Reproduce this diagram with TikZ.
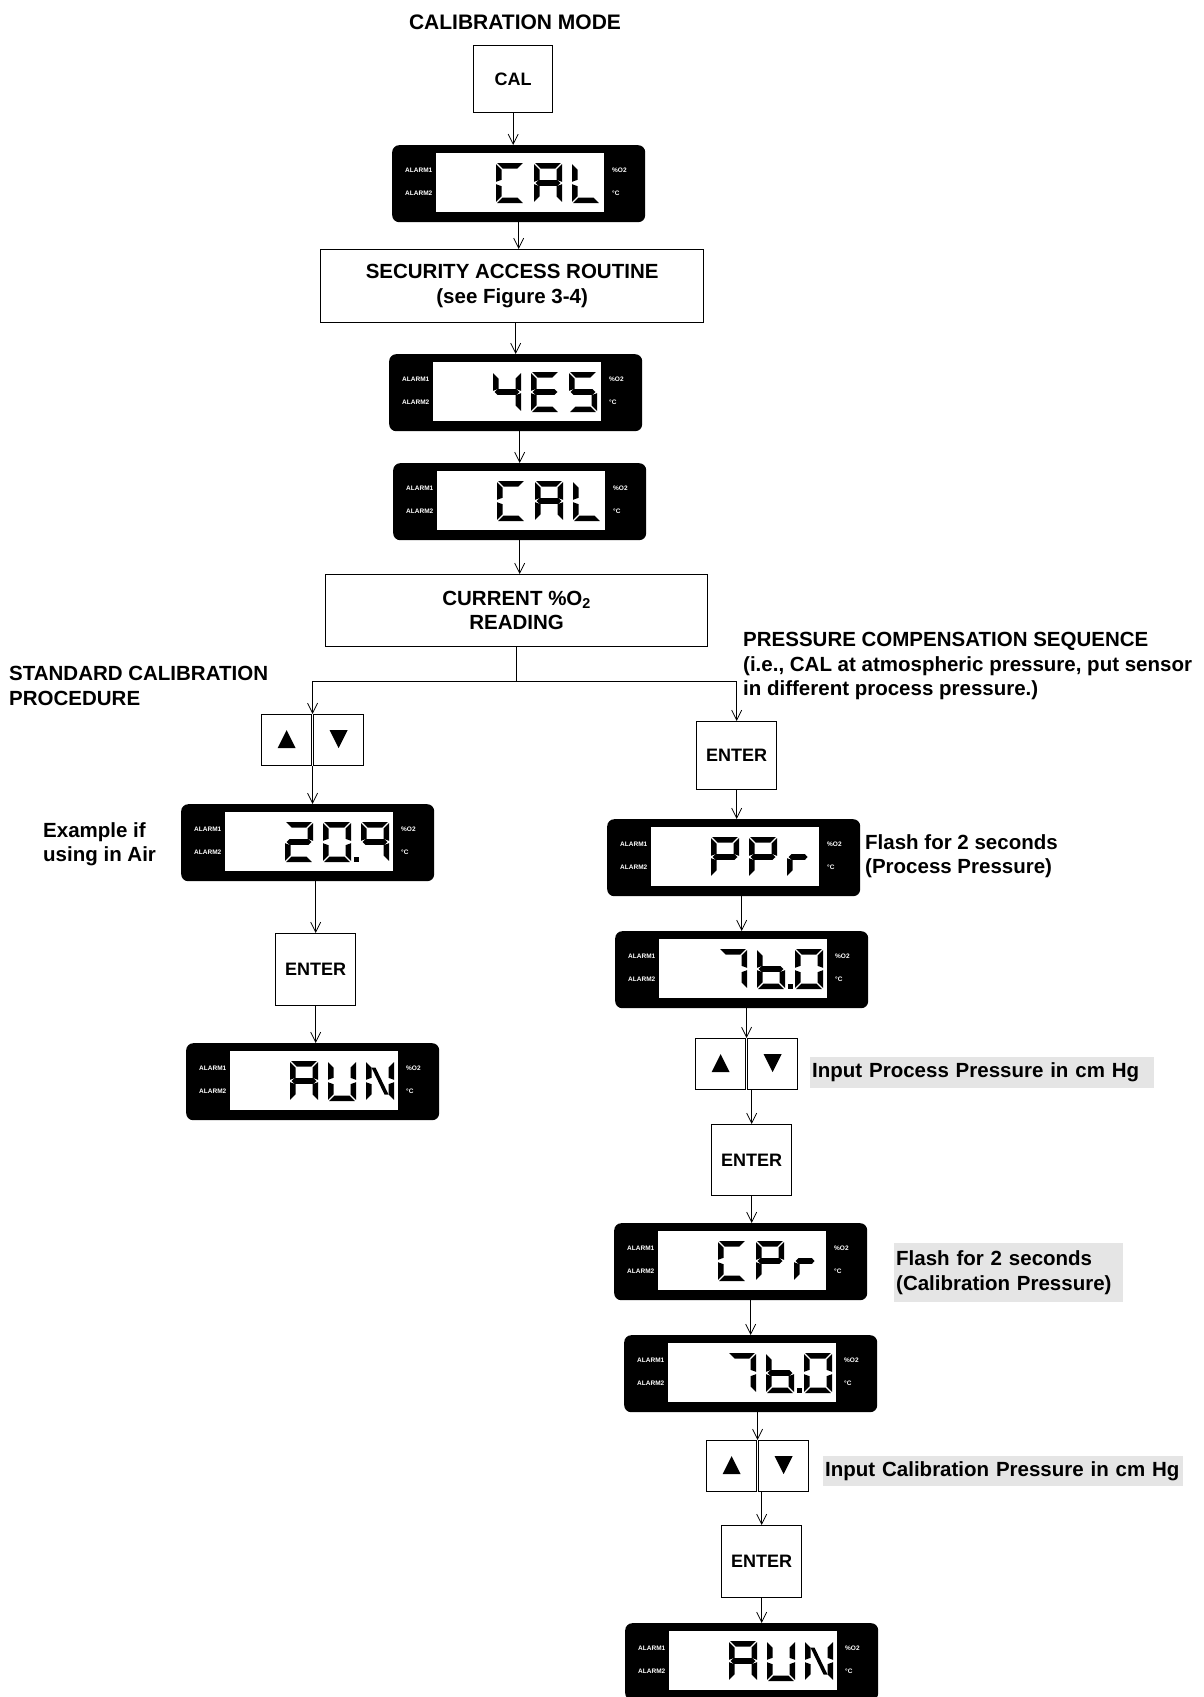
\documentclass[tikz,border=0pt]{standalone}
\usepackage{fontspec}
\setmainfont{Liberation Sans}
\usetikzlibrary{arrows.meta,calc}

\newcommand\mf{\fontsize{20.5}{24.5}\selectfont\bfseries}
\newcommand\titf{\fontsize{21}{25}\selectfont\bfseries}
\newcommand\btnf{\fontsize{18}{22}\selectfont\bfseries}
\newcommand\lblf{\fontsize{6.5}{7}\selectfont\bfseries}

% seven segment pieces (cell 28 x 40, y downward)
\newcommand\lcdsega{\fill (1.2,0) -- (26.8,0) -- (21.3,5.5) -- (6.7,5.5) -- cycle;}
\newcommand\lcdsegd{\fill (1.2,40) -- (26.8,40) -- (21.3,34.5) -- (6.7,34.5) -- cycle;}
\newcommand\lcdsegf{\fill (0,1.2) -- (5.5,6.7) -- (5.5,16.8) -- (0,18.8) -- cycle;}
\newcommand\lcdsege{\fill (0,21.2) -- (5.5,23.2) -- (5.5,33.3) -- (0,38.8) -- cycle;}
\newcommand\lcdsegb{\fill (28,1.2) -- (22.5,6.7) -- (22.5,16.8) -- (28,18.8) -- cycle;}
\newcommand\lcdsegc{\fill (28,21.2) -- (22.5,23.2) -- (22.5,33.3) -- (28,38.8) -- cycle;}
\newcommand\lcdsegg{\fill (1.5,20) -- (4.5,17.2) -- (23.5,17.2) -- (26.5,20) -- (23.5,22.8) -- (4.5,22.8) -- cycle;}
\newcommand\lcdsegdp{\fill (31,34.5) rectangle (36,40);}
\newcommand\lcdsegn{\fill (5.5,6.5) -- (9.5,6.5) -- (22.5,33.5) -- (18.5,33.5) -- cycle;}
\newcommand\lcdsegr{\lcdsege\fill (1.5,20) -- (4.5,17.2) -- (18,17.2) -- (20.5,20) -- (18,22.8) -- (4.5,22.8) -- cycle;}

\newcommand\lcdch[2]{\begin{scope}[shift={(#1,18)}]\foreach \s in {#2}{\csname lcdseg\s\endcsname}\end{scope}}

\newcommand\lcd[4]{%
  \node[lcd, anchor=north west] (#1) at (#2,#3) {};
  \begin{scope}[shift={(#1.north west)}]
    \fill[white] (44,8) rectangle (212,67);
    \node[lbl] (#1a1) at (13,25) {ALARM1};
    \node[lbl] (#1a2) at (13,48) {ALARM2};
    \node[lbl] (#1o) at (220,25) {\%O2};
    \node[lbl] (#1c) at (220,48) {°C};
    #4
  \end{scope}}

\newcommand\btnpair[3]{%
  \node[btn, anchor=north west] (#1u) at (#2,#3) {};
  \node[btn, anchor=north west] (#1d) at (#2+52,#3) {};
  \fill ([shift={(-9,8)}]#1u.center) -- ([shift={(9,8)}]#1u.center) -- ([shift={(0,-10)}]#1u.center) -- cycle;
  \fill ([shift={(-9,-10)}]#1d.center) -- ([shift={(9,-10)}]#1d.center) -- ([shift={(0,8)}]#1d.center) -- cycle;
  \coordinate (#1t) at ($(#1u.north east)!.5!(#1d.north west)$);
  \coordinate (#1b) at ($(#1u.south east)!.5!(#1d.south west)$);}

\begin{document}
\begin{tikzpicture}[x=1pt,y=-1pt,
  lcd/.style={fill=black, rounded corners=7, minimum width=253, minimum height=77, inner sep=0},
  lbl/.style={anchor=west, font=\lblf, text=white, inner sep=0},
  btn/.style={draw, line width=1.2pt, minimum width=50, minimum height=51, inner sep=0},
  box/.style={draw, line width=1.3pt, align=center, inner sep=0, anchor=north west, font=\mf},
  enter/.style={box, font=\btnf, minimum width=80},
  txt/.style={inner sep=0, align=left, anchor=north west, font=\mf},
  hl/.style={fill=black!10, inner xsep=2, inner ysep=0, align=left, anchor=north west, font=\mf},
  arr/.style={line width=0.8pt, -{Straight Barb[length=10pt,width=10pt]}},
  line/.style={line width=0.8pt}]
\fill[white] (0,0) rectangle (1204,1697);
\useasboundingbox (0,0) rectangle (1204,1697);

% texts
\node[inner sep=0, anchor=north, font=\titf] (title) at (515,15) {CALIBRATION MODE};
\node[txt] (std) at (9,666) {STANDARD CALIBRATION\\PROCEDURE};
\node[txt] (pcs) at (743,632) {PRESSURE COMPENSATION SEQUENCE\\(i.e., CAL at atmospheric pressure, put sensor\\in different process pressure.)};
\node[txt] (ex) at (43,822) {Example if\\using in Air};
\node[txt] (fl1) at (865,834) {Flash for 2 seconds\\(Process Pressure)};
\node[hl, text width=340, minimum height=31] (in1) at (810,1057) {\mbox{Input Process Pressure in cm Hg}};
\node[hl, text width=225, minimum height=59] (fl2) at (894,1243) {Flash for 2 seconds\\(Calibration Pressure)};
\node[hl, text width=356, minimum height=30] (in2) at (823,1456) {\mbox{Input Calibration Pressure in cm Hg}};

% boxes
\node[box, font=\btnf, minimum width=79, minimum height=67] (cal) at (473,45) {CAL};
\node[box, minimum width=383, minimum height=73] (sec) at (320,249) {SECURITY ACCESS ROUTINE\\(see Figure 3-4)};
\node[box, minimum width=382, minimum height=72] (cur) at (325,574) {CURRENT \%O\textsubscript{2}\\READING};
\node[enter, minimum height=72] (el) at (275,933) {ENTER};
\node[enter, minimum height=68] (e1) at (696,721) {ENTER};
\node[enter, minimum height=71] (e2) at (711,1124) {ENTER};
\node[enter, minimum height=72] (e3) at (721,1525) {ENTER};

% buttons
\btnpair{lb}{261}{714}
\btnpair{rb}{695}{1038}
\btnpair{rc}{706}{1440}

% displays
\lcd{d1}{392}{145}{\lcdch{104}{a,d,e,f}\lcdch{142}{a,b,c,e,f,g}\lcdch{180}{d,e,f}}
\lcd{d2}{389}{354}{\lcdch{104}{b,c,f,g}\lcdch{142}{a,d,e,f,g}\lcdch{180}{a,c,d,f,g}}
\lcd{d3}{393}{463}{\lcdch{104}{a,d,e,f}\lcdch{142}{a,b,c,e,f,g}\lcdch{180}{d,e,f}}
\lcd{d4}{181}{804}{\lcdch{104}{a,b,d,e,g}\lcdch{142}{a,b,c,d,e,f,dp}\lcdch{180}{a,b,c,f,g}}
\lcd{d5}{186}{1043}{\lcdch{104}{a,b,c,e,f,g}\lcdch{142}{b,c,d,e,f}\lcdch{180}{b,c,e,f,n}}
\lcd{d6}{607}{819}{\lcdch{104}{a,b,e,f,g}\lcdch{142}{a,b,e,f,g}\lcdch{180}{r}}
\lcd{d7}{615}{931}{\lcdch{104}{a,b,c}\lcdch{142}{c,d,e,f,g,dp}\lcdch{180}{a,b,c,d,e,f}}
\lcd{d8}{614}{1223}{\lcdch{104}{a,d,e,f}\lcdch{142}{a,b,e,f,g}\lcdch{180}{r}}
\lcd{d9}{624}{1335}{\lcdch{104}{a,b,c}\lcdch{142}{c,d,e,f,g,dp}\lcdch{180}{a,b,c,d,e,f}}
\lcd{d10}{625}{1623}{\lcdch{104}{a,b,c,e,f,g}\lcdch{142}{b,c,d,e,f}\lcdch{180}{b,c,e,f,n}}

% connectors
\draw[arr] (cal.south) -- (cal.south |- d1.north);
\draw[arr] (d1.south) -- (d1.south |- sec.north);
\draw[arr] (d2.north |- sec.south) -- (d2.north);
\draw[arr] (d3.north |- d2.south) -- (d3.north);
\draw[arr] (d3.south) -- (d3.south |- cur.north);
\draw[line] (cur.south) -- ++(0,34) coordinate (brc);
\draw[line] (lbt |- brc) -- (e1.north |- brc);
\draw[arr] (lbt |- brc) -- (lbt);
\draw[arr] (e1.north |- brc) -- (e1.north);
\draw[arr] (lbb) -- (lbb |- d4.north);
\draw[arr] (el.north |- d4.south) -- (el.north);
\draw[arr] (el.south) -- (el.south |- d5.north);
\draw[arr] (e1.south) -- (e1.south |- d6.north);
\draw[arr] (d7.north |- d6.south) -- (d7.north);
\draw[arr] (rbt |- d7.south) -- (rbt);
\draw[arr] (e2.north |- rbb) -- (e2.north);
\draw[arr] (e2.south) -- (e2.south |- d8.north);
\draw[arr] (d9.north |- d8.south) -- (d9.north);
\draw[arr] (rct |- d9.south) -- (rct);
\draw[arr] (e3.north |- rcb) -- (e3.north);
\draw[arr] (e3.south) -- (e3.south |- d10.north);
\end{tikzpicture}
\end{document}
